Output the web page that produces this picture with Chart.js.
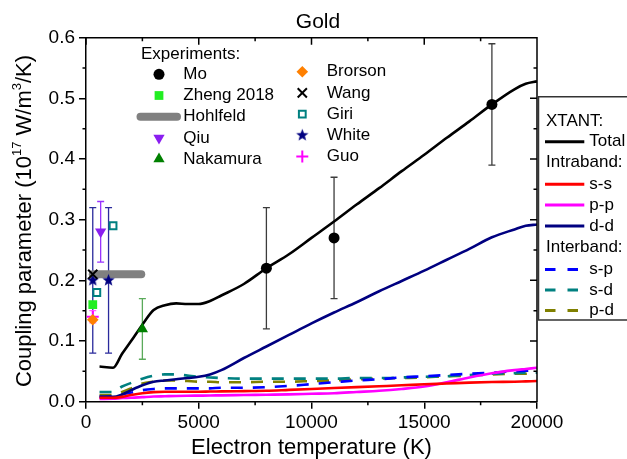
<!DOCTYPE html>
<html>
<head>
<meta charset="utf-8">
<title>Gold - electron-phonon coupling</title>
<script src="https://cdn.jsdelivr.net/npm/chart.js@4.4.1/dist/chart.umd.min.js"></script>
<style>
  html, body { margin: 0; padding: 0; background: #fff; overflow: hidden; }
  #wrap { width: 627px; height: 459px; }
</style>
</head>
<body>
<div id="wrap"><canvas id="chart" width="627" height="459"></canvas></div>
<script>
/* ---------------------------------------------------------------
   XTANT curves (coupling parameter, 1e17 W/m^3/K)
   --------------------------------------------------------------- */
const tempK = [600, 1200, 1600, 2000, 2500, 3000, 3500, 4000, 4500, 5000, 5500, 6000, 7000, 8000,
  9000, 10000, 11000, 12000, 13000, 14000, 15000, 16000, 17000, 18000, 19000, 19500, 20000];

const total = [0.058, 0.056, 0.079, 0.100, 0.127, 0.151, 0.159, 0.162, 0.161, 0.161, 0.166, 0.175, 0.194, 0.220,
  0.243, 0.270, 0.297, 0.325, 0.352, 0.380, 0.407, 0.435, 0.462, 0.490, 0.515, 0.524, 0.528];
const ss = [0.0066, 0.0066, 0.008, 0.011, 0.014, 0.0158, 0.0165, 0.0165, 0.0165, 0.0165, 0.0168, 0.017, 0.0175, 0.018,
  0.0195, 0.021, 0.0225, 0.024, 0.0255, 0.027, 0.0287, 0.030, 0.0315, 0.0325, 0.033, 0.0335, 0.034];
const pp = [0.0045, 0.005, 0.006, 0.0065, 0.0075, 0.0085, 0.009, 0.0095, 0.0098, 0.010, 0.0102, 0.0105, 0.011, 0.0115,
  0.012, 0.013, 0.014, 0.016, 0.018, 0.021, 0.025, 0.032, 0.040, 0.047, 0.052, 0.054, 0.056];
const dd = [0.008, 0.008, 0.012, 0.019, 0.027, 0.033, 0.035, 0.037, 0.039, 0.041, 0.045, 0.052, 0.072, 0.091,
  0.110, 0.129, 0.147, 0.164, 0.182, 0.199, 0.216, 0.234, 0.252, 0.271, 0.284, 0.290, 0.292];
const sp = [0.008, 0.009, 0.012, 0.015, 0.019, 0.021, 0.022, 0.022, 0.022, 0.022, 0.022, 0.023, 0.023, 0.024,
  0.026, 0.029, 0.032, 0.035, 0.037, 0.040, 0.042, 0.044, 0.046, 0.048, 0.050, 0.051, 0.052];
const sd = [0.016, 0.016, 0.025, 0.031, 0.038, 0.043, 0.045, 0.045, 0.043, 0.041, 0.040, 0.039, 0.038, 0.038,
  0.038, 0.038, 0.038, 0.039, 0.039, 0.040, 0.041, 0.042, 0.044, 0.046, 0.047, 0.048, 0.048];
const pd = [0.011, 0.011, 0.016, 0.022, 0.030, 0.033, 0.035, 0.035, 0.034, 0.033, 0.033, 0.032, 0.032, 0.033,
  0.033, 0.034, 0.035, 0.037, 0.038, 0.039, 0.040, 0.042, 0.043, 0.045, 0.046, 0.046, 0.047];

/* ---------------------------------------------------------------
   Experiments
   --------------------------------------------------------------- */
const moT = [8000, 11000, 18000], moG = [0.22, 0.27, 0.49], moLo = [0.12, 0.17, 0.39], moHi = [0.32, 0.37, 0.59];
const zhengT = [300], zhengG = [0.16];
const hohlfeldT = [300, 2450], hohlfeldG = [0.21, 0.21];
const qiuT = [650], qiuG = [0.28], qiuLo = [0.23], qiuHi = [0.33];
const nakamuraT = [2500], nakamuraG = [0.12], nakamuraLo = [0.07], nakamuraHi = [0.17];
const brorsonT = [300], brorsonG = [0.135];
const wangT = [300], wangG = [0.21];
const giriT = [480, 1200], giriG = [0.18, 0.29];
const whiteT = [300, 1000], whiteG = [0.20, 0.20], whiteLo = [0.08, 0.08], whiteHi = [0.32, 0.32];
const guoT = [300], guoG = [0.14], guoLo = [0.13], guoHi = [0.15];

const FONT = '"Liberation Sans", Arial, sans-serif';
Chart.defaults.font.family = FONT;
Chart.defaults.color = "#000";

function pts(xs, ys) {
  return xs.map((x, i) => ({ x, y: ys[i] }));
}

// filled 5-point star (Chart.js "star" is only an asterisk)
function starImage(color, R) {
  const c = document.createElement("canvas");
  c.width = c.height = Math.ceil(2 * R + 2);
  const g = c.getContext("2d");
  g.fillStyle = color;
  g.beginPath();
  for (let i = 0; i < 10; i++) {
    const r = i % 2 ? R * 0.42 : R;
    const a = -Math.PI / 2 + i * Math.PI / 5;
    g.lineTo(c.width / 2 + r * Math.cos(a), c.height / 2 + r * Math.sin(a));
  }
  g.closePath();
  g.fill();
  return c;
}

function curve(label, data, color, dashed) {
  return {
    type: "line", label, data: pts(tempK, data),
    borderColor: color, borderWidth: 2.6, borderDash: dashed ? [12, 10] : [],
    pointRadius: 0, fill: false, cubicInterpolationMode: "monotone", order: 10,
  };
}

function marker(label, xs, ys, style, extra) {
  return Object.assign({
    type: "scatter", label, data: pts(xs, ys),
    pointStyle: style, pointRadius: 5.5, pointRotation: 0,
    pointBorderWidth: 0, order: 1,
  }, extra);
}

const datasets = [
  marker("Mo", moT, moG, "circle", { pointBackgroundColor: "#000", pointBorderColor: "#000", pointRadius: 5.5 }),
  marker("Zheng 2018", zhengT, zhengG, "rect", { pointBackgroundColor: "#22ee22", pointBorderColor: "#22ee22", pointRadius: 6.2 }),
  {
    type: "line", label: "Hohlfeld", data: pts(hohlfeldT, hohlfeldG),
    borderColor: "#808080", borderWidth: 8, borderCapStyle: "round", pointRadius: 0, order: 2,
  },
  marker("Qiu", qiuT, qiuG, "triangle", { pointBackgroundColor: "#8a1ef0", pointBorderColor: "#8a1ef0", pointRadius: 6.5, pointRotation: 180 }),
  marker("Nakamura", nakamuraT, nakamuraG, "triangle", { pointBackgroundColor: "#008000", pointBorderColor: "#008000", pointRadius: 6.5 }),
  marker("Brorson", brorsonT, brorsonG, "rectRot", { pointBackgroundColor: "#ff8000", pointBorderColor: "#ff8000", pointRadius: 5.8 }),
  marker("Wang", wangT, wangG, "crossRot", { pointBackgroundColor: "#000", pointBorderColor: "#000", pointRadius: 6.5, pointBorderWidth: 2 }),
  marker("Giri", giriT, giriG, "rect", { pointBackgroundColor: "#fff", pointBorderColor: "#008080", pointRadius: 4.8, pointBorderWidth: 2 }),
  marker("White", whiteT, whiteG, starImage("#000080", 6.5), { pointBackgroundColor: "#000080", pointBorderColor: "#000080", pointRadius: 6.5 }),
  marker("Guo", guoT, guoG, "cross", { pointBackgroundColor: "#ff00ff", pointBorderColor: "#ff00ff", pointRadius: 6, pointBorderWidth: 2 }),

  curve("Total", total, "#000000"),
  curve("s-s", ss, "#ff0000"),
  curve("p-p", pp, "#ff00ff"),
  curve("d-d", dd, "#000080"),
  curve("s-p", sp, "#0000ff", true),
  curve("s-d", sd, "#008080", true),
  curve("p-d", pd, "#808000", true),
];

/* ---------------------------------------------------------------
   Error bars (drawn through the scales, under the markers)
   --------------------------------------------------------------- */
const errorBars = [
  { xs: moT, lo: moLo, hi: moHi, color: "#3c3c3c" },
  { xs: qiuT, lo: qiuLo, hi: qiuHi, color: "#9933ff" },
  { xs: nakamuraT, lo: nakamuraLo, hi: nakamuraHi, color: "#5aaa5a" },
  { xs: whiteT, lo: whiteLo, hi: whiteHi, color: "#2a2a9c" },
  { xs: guoT, lo: guoLo, hi: guoHi, color: "#ff66ff" },
];

const errorBarPlugin = {
  id: "errorBars",
  beforeDatasetsDraw(chart) {
    const { ctx, scales: { x, y } } = chart;
    ctx.save();
    ctx.lineWidth = 1.3;
    errorBars.forEach((eb) => {
      ctx.strokeStyle = eb.color;
      eb.xs.forEach((t, i) => {
        const px = x.getPixelForValue(t);
        const y0 = y.getPixelForValue(eb.lo[i]);
        const y1 = y.getPixelForValue(eb.hi[i]);
        ctx.beginPath();
        ctx.moveTo(px, y0); ctx.lineTo(px, y1);
        ctx.moveTo(px - 3.5, y0); ctx.lineTo(px + 3.5, y0);
        ctx.moveTo(px - 3.5, y1); ctx.lineTo(px + 3.5, y1);
        ctx.stroke();
      });
    });
    ctx.restore();
  },
};

/* ---------------------------------------------------------------
   Frame: top/right axes, mirrored and minor ticks
   --------------------------------------------------------------- */
const framePlugin = {
  id: "frame",
  afterDraw(chart) {
    const { ctx, chartArea: a, scales: { x, y } } = chart;
    const xs = x.options.ticks.stepSize, ys = y.options.ticks.stepSize;
    ctx.save();
    ctx.strokeStyle = "#000";
    ctx.lineWidth = 1.5;
    ctx.beginPath();
    ctx.moveTo(a.left, a.top); ctx.lineTo(a.right, a.top); ctx.lineTo(a.right, a.bottom);
    for (let v = x.min; v <= x.max + 1e-6; v += xs) {
      const px = x.getPixelForValue(v);
      ctx.moveTo(px, a.top); ctx.lineTo(px, a.top + 7);
    }
    for (let v = y.min; v <= y.max + 1e-9; v += ys) {
      const py = y.getPixelForValue(v);
      ctx.moveTo(a.right, py); ctx.lineTo(a.right - 7, py);
    }
    for (let v = x.min + xs / 2; v < x.max; v += xs) {
      const px = x.getPixelForValue(v);
      ctx.moveTo(px, a.bottom); ctx.lineTo(px, a.bottom + 3.5);
      ctx.moveTo(px, a.top); ctx.lineTo(px, a.top + 3.5);
    }
    for (let v = y.min + ys / 2; v < y.max; v += ys) {
      const py = y.getPixelForValue(v);
      ctx.moveTo(a.left, py); ctx.lineTo(a.left - 3.5, py);
      ctx.moveTo(a.right, py); ctx.lineTo(a.right - 3.5, py);
    }
    ctx.stroke();
    ctx.restore();
  },
};

/* ---------------------------------------------------------------
   Titles (chart title and y title with superscripts)
   --------------------------------------------------------------- */
const titlePlugin = {
  id: "titles",
  afterDraw(chart) {
    const { ctx } = chart;
    ctx.save();
    ctx.fillStyle = "#000";
    ctx.textBaseline = "middle";
    ctx.textAlign = "center";
    ctx.font = "21px " + FONT;
    ctx.fillText("Gold", 318, 22.5);

    const parts = [
      ["Coupling parameter (10", 0],
      ["17", 1],
      [" W/m", 0],
      ["3", 1],
      ["/K)", 0],
    ];
    const big = "22px " + FONT, small = "13px " + FONT;
    let w = 0;
    parts.forEach(([t, sup]) => { ctx.font = sup ? small : big; w += ctx.measureText(t).width; });
    ctx.translate(25, 221);
    ctx.rotate(-Math.PI / 2);
    ctx.textAlign = "left";
    let cx = -w / 2;
    parts.forEach(([t, sup]) => {
      ctx.font = sup ? small : big;
      ctx.fillText(t, cx, sup ? -8 : 0);
      cx += ctx.measureText(t).width;
    });
    ctx.restore();
  },
};

/* ---------------------------------------------------------------
   Legends (experiments inside the plot, XTANT box on the right)
   --------------------------------------------------------------- */
const expColumns = [
  { markX: 159, textX: 183.3, y0: 74.3, labels: ["Mo", "Zheng 2018", "Hohlfeld", "Qiu", "Nakamura"] },
  { markX: 302.3, textX: 326.7, y0: 71.7, labels: ["Brorson", "Wang", "Giri", "White", "Guo"] },
];
const xtantRows = [
  { text: "XTANT:", y: 121.7 },
  { label: "Total", y: 141.7 },
  { text: "Intraband:", y: 162.7 },
  { label: "s-s", y: 184.3 },
  { label: "p-p", y: 205 },
  { label: "d-d", y: 226 },
  { text: "Interband:", y: 247.7 },
  { label: "s-p", y: 269.5 },
  { label: "s-d", y: 290 },
  { label: "p-d", y: 310.5 },
];

const legendPlugin = {
  id: "legends",
  afterDraw(chart) {
    const { ctx } = chart;
    const byLabel = (l) => chart.data.datasets.find((d) => d.label === l);
    ctx.save();
    ctx.font = "17px " + FONT;
    ctx.textBaseline = "middle";
    ctx.textAlign = "left";
    ctx.fillStyle = "#000";
    ctx.fillText("Experiments:", 141, 54.3);

    expColumns.forEach((col) => {
      col.labels.forEach((label, i) => {
        const y = col.y0 + i * 21.2;
        const ds = byLabel(label);
        ctx.save();
        if (ds.type === "line") {
          ctx.strokeStyle = ds.borderColor;
          ctx.lineWidth = ds.borderWidth;
          ctx.lineCap = "round";
          ctx.beginPath();
          ctx.moveTo(col.markX - 18.5, y); ctx.lineTo(col.markX + 18, y);
          ctx.stroke();
        } else {
          ctx.fillStyle = ds.pointBackgroundColor;
          ctx.strokeStyle = ds.pointBorderColor;
          ctx.lineWidth = ds.pointBorderWidth;
          Chart.helpers.drawPoint(ctx, {
            pointStyle: ds.pointStyle, rotation: ds.pointRotation,
            radius: ds.pointRadius, borderWidth: ds.pointBorderWidth,
          }, col.markX, y);
        }
        ctx.restore();
        ctx.fillText(label, col.textX, y);
      });
    });

    // XTANT box, runs off the right edge like the original
    ctx.strokeStyle = "#333";
    ctx.lineWidth = 1.5;
    ctx.beginPath();
    ctx.moveTo(700, 96.7); ctx.lineTo(538.5, 96.7); ctx.lineTo(538.5, 320); ctx.lineTo(700, 320);
    ctx.stroke();
    xtantRows.forEach((row) => {
      if (row.text) {
        ctx.fillText(row.text, 546, row.y);
        return;
      }
      const ds = byLabel(row.label);
      ctx.save();
      ctx.strokeStyle = ds.borderColor;
      ctx.lineWidth = 3;
      ctx.setLineDash(ds.borderDash.length ? [10.5, 12] : []);
      ctx.beginPath();
      ctx.moveTo(545, row.y); ctx.lineTo(ds.borderDash.length ? 578.5 : 584.3, row.y);
      ctx.stroke();
      ctx.restore();
      ctx.fillText(row.label, 589.3, row.y);
    });
    ctx.restore();
  },
};

/* ---------------------------------------------------------------
   Chart
   --------------------------------------------------------------- */
const tickFont = { family: FONT, size: 19 };
const axisLine = { drawOnChartArea: false, drawTicks: true, tickLength: 7, color: "#000", lineWidth: 1.5 };

new Chart(document.getElementById("chart"), {
  data: { datasets },
  options: {
    responsive: false,
    animation: false,
    events: [],
    layout: { padding: { top: 37.7, right: 90, bottom: 0, left: 0 } },
    plugins: { legend: { display: false }, tooltip: { enabled: false }, title: { display: false } },
    scales: {
      x: {
        type: "linear", min: 0, max: 20000,
        ticks: { stepSize: 5000, font: tickFont, color: "#000", padding: 3, maxRotation: 0, autoSkip: false, callback: (v) => String(v) },
        grid: axisLine,
        border: { color: "#000", width: 1.5 },
        title: { display: true, text: "Electron temperature (K)", color: "#000", font: { family: FONT, size: 22, lineHeight: 1 }, padding: 0 },
        afterFit: (s) => { s.height = 57.3; },
      },
      y: {
        type: "linear", min: 0, max: 0.6,
        ticks: { stepSize: 0.1, font: tickFont, color: "#000", padding: 4, callback: (v) => v.toFixed(1) },
        grid: axisLine,
        border: { color: "#000", width: 1.5 },
        afterFit: (s) => { s.width = 86; },
      },
    },
  },
  plugins: [errorBarPlugin, framePlugin, titlePlugin, legendPlugin],
});
</script>
</body>
</html>
